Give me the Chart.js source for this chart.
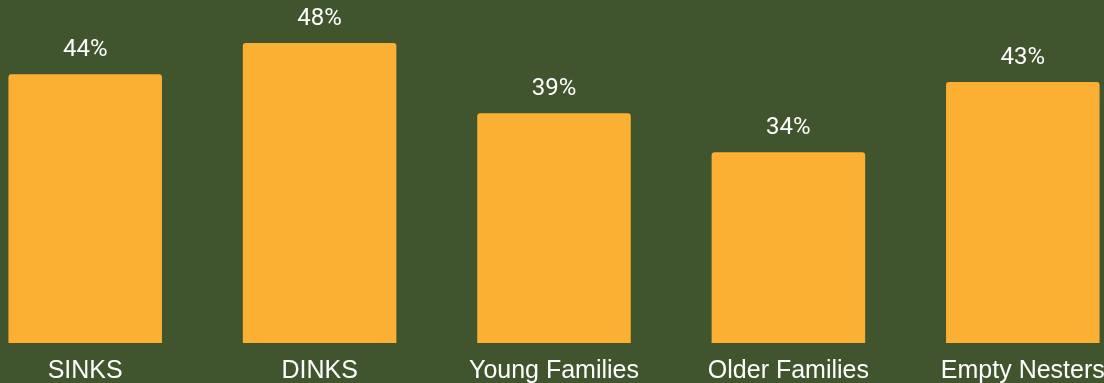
<!DOCTYPE html>
<html lang="en">
<head>
    <meta charset="UTF-8">
    <title>Household types</title>
    <script src="https://cdn.jsdelivr.net/npm/chart.js"></script>
    <style>
        html, body { margin: 0; padding: 0; background: #40552e; overflow: hidden; width: 1104px; height: 383px; }
        #chart { position: absolute; left: -32px; top: 0; }
    </style>
</head>
<body>
    <!-- canvas is a bit wider/taller than the window: the original is cropped at the edges -->
    <canvas id="chart" width="1172" height="399"></canvas>
    <script>
        // values
        const categories = ['SINKS', 'DINKS', 'Young Families', 'Older Families', 'Empty Nesters'];
        const shares = [44, 48, 39, 34, 43];
        const valueLabels = ['44%', '48%', '39%', '34%', '43%'];

        const barColor = '#fbb034';
        const textColor = '#ffffff';

        // draws the percentage above each bar
        const topLabels = {
            id: 'topLabels',
            afterDatasetsDraw(chart) {
                const ctx = chart.ctx;
                const meta = chart.getDatasetMeta(0);
                ctx.save();
                ctx.fillStyle = textColor;
                ctx.font = '24px Roboto, "Liberation Sans", sans-serif';
                ctx.textAlign = 'center';
                ctx.textBaseline = 'alphabetic';
                meta.data.forEach((bar, i) => {
                    ctx.fillText(valueLabels[i], bar.x, bar.y - 18);
                });
                ctx.restore();
            }
        };

        const ctx = document.getElementById('chart').getContext('2d');
        new Chart(ctx, {
            type: 'bar',
            data: {
                labels: categories,
                datasets: [{
                    data: shares,
                    backgroundColor: barColor,
                    borderRadius: 3,
                    borderSkipped: 'bottom',
                    categoryPercentage: 1,
                    barPercentage: 0.655
                }]
            },
            options: {
                responsive: false,
                animation: false,
                layout: { padding: 0 },
                plugins: {
                    legend: { display: false },
                    tooltip: { enabled: false }
                },
                scales: {
                    x: {
                        grid: { display: false, drawTicks: false },
                        border: { display: false },
                        ticks: {
                            color: textColor,
                            padding: 13,
                            maxRotation: 0,
                            autoSkip: false,
                            font: { family: '"Liberation Sans", Arial, sans-serif', size: 25, lineHeight: 1.2 }
                        }
                    },
                    y: {
                        display: false,
                        min: 9.6,
                        max: 53.5
                    }
                }
            },
            plugins: [topLabels]
        });
    </script>
</body>
</html>
